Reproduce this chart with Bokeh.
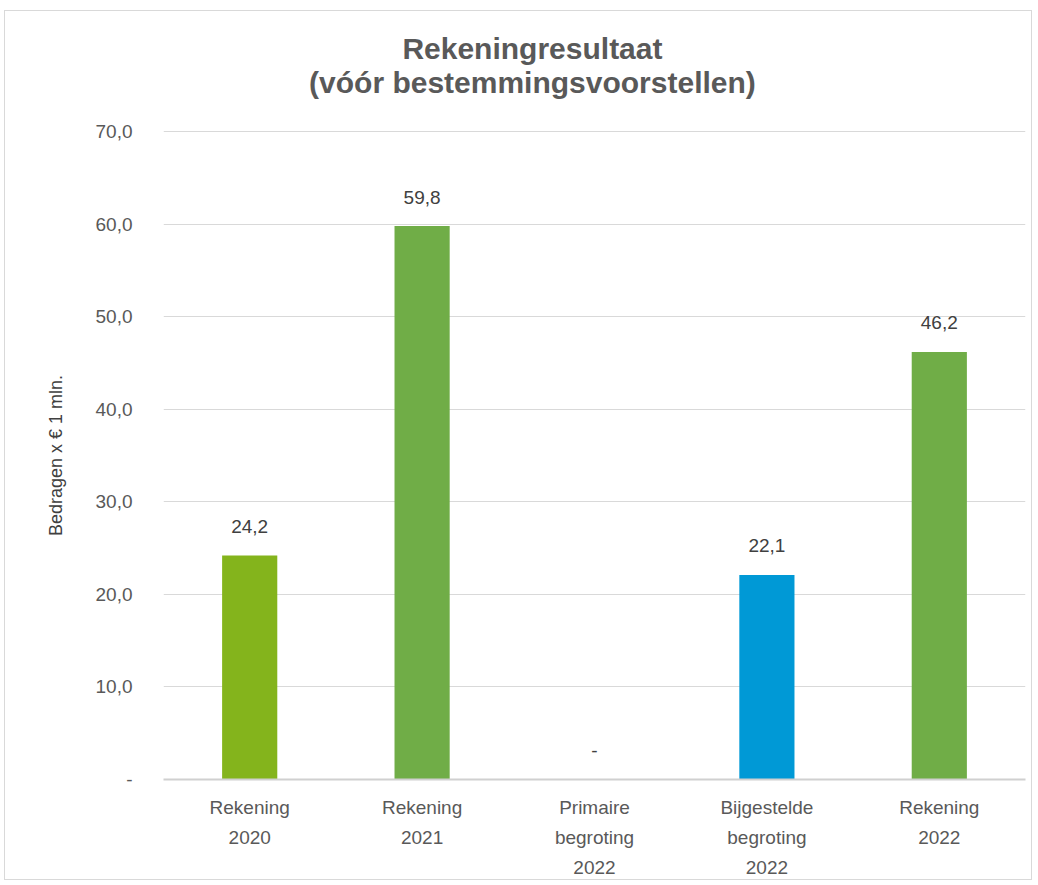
from bokeh.plotting import figure
from bokeh.models import ColumnDataSource, FixedTicker, LabelSet, Label
from bokeh.core.properties import value
from bokeh.embed import file_html
from bokeh.resources import INLINE

categories = ["Rekening\n2020", "Rekening\n2021", "Primaire\nbegroting\n2022",
              "Bijgestelde\nbegroting\n2022", "Rekening\n2022"]
values = [24.2, 59.8, 0.0, 22.1, 46.2]
value_labels = ["24,2", "59,8", "-", "22,1", "46,2"]
colors = ["#84B41C", "#70AD47", "#70AD47", "#0099D6", "#70AD47"]
y_ticks = [0, 10, 20, 30, 40, 50, 60, 70]
y_tick_labels = ["-", "10,0", "20,0", "30,0", "40,0", "50,0", "60,0", "70,0"]
title_lines = ["Rekeningresultaat", "(vóór bestemmingsvoorstellen)"]
y_axis_label = "Bedragen x € 1 mln."

FONT = "Liberation Sans"
TXT = "#595959"

src = ColumnDataSource(dict(cat=categories, val=values, lab=value_labels, col=colors))

# y range extends above 70 so that the title can sit inside the frame
p = figure(x_range=categories, y_range=(0, 81.9), width=1028, height=870,
           output_backend="svg", toolbar_location=None,
           min_border_left=158, min_border_right=8, min_border_bottom=101,
           min_border_top=10)
p.margin = (10, 0, 0, 4)
p.title = None

for line, ty in zip(title_lines, [78.98, 75.3]):
    p.add_layout(Label(x=2.14, y=ty, text=line, text_align="center", text_baseline="middle",
                       text_font=FONT, text_font_size="30px", text_font_style="bold",
                       text_color=TXT))

p.vbar(x="cat", top="val", width=0.32, bottom=0, fill_color="col", line_color=None, source=src)

p.add_layout(LabelSet(x="cat", y="val", text="lab", source=src, y_offset=29,
                      text_align="center", text_baseline="middle",
                      text_font=value(FONT), text_font_size=value("19px"),
                      text_color="#404040"))

p.outline_line_color = None
p.xgrid.grid_line_color = None
p.ygrid.grid_line_color = "#d9d9d9"
p.ygrid.grid_line_width = 1

p.yaxis.ticker = FixedTicker(ticks=y_ticks)
p.yaxis.major_label_overrides = {t_: l for t_, l in zip(y_ticks, y_tick_labels)}
p.yaxis.axis_line_color = None
p.yaxis.major_tick_line_color = None
p.yaxis.minor_tick_line_color = None
p.yaxis.major_label_standoff = 25
p.yaxis.major_label_text_font = FONT
p.yaxis.major_label_text_font_size = "19px"
p.yaxis.major_label_text_color = TXT
# non-breaking spaces keep the label centred on the 0-70 part of the axis
p.yaxis.axis_label = y_axis_label + "\u00a0" * 22
p.yaxis.axis_label_text_font = FONT
p.yaxis.axis_label_text_font_size = "18px"
p.yaxis.axis_label_text_font_style = "normal"
p.yaxis.axis_label_text_color = "#404040"
p.yaxis.axis_label_standoff = 27

p.xaxis.axis_line_color = "#d0d0d0"
p.xaxis.axis_line_width = 2
p.xaxis.major_tick_line_color = None
p.xaxis.minor_tick_line_color = None
p.xaxis.major_label_standoff = 11
p.xaxis.major_label_text_font = FONT
p.xaxis.major_label_text_font_size = "19px"
p.xaxis.major_label_text_color = TXT
p.xaxis.major_label_text_line_height = 1.45

p.styles = {"border": "1px solid #d9d9d9"}

open("out.html", "w").write(file_html(p, INLINE))
